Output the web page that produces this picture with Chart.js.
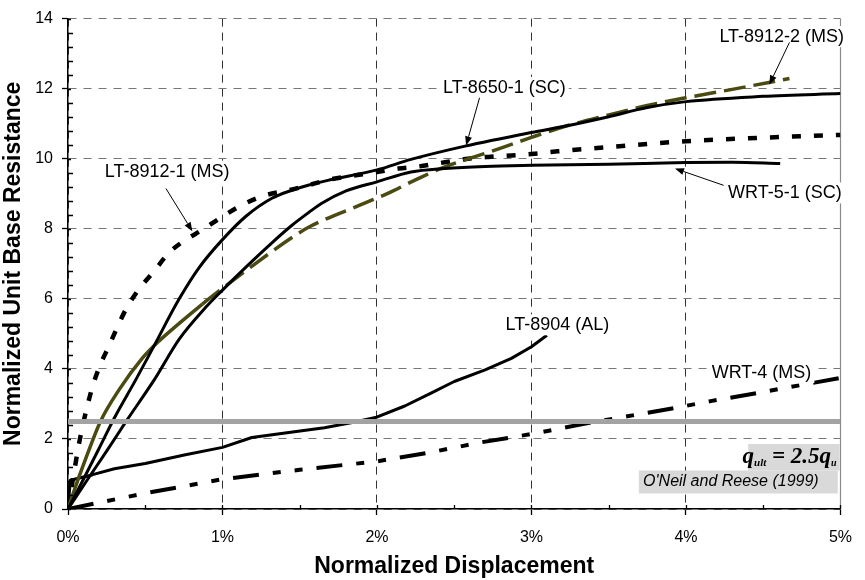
<!DOCTYPE html>
<html><head><meta charset="utf-8">
<script src="https://cdn.jsdelivr.net/npm/chart.js@4.4.0/dist/chart.umd.min.js"></script>
<style>html,body{margin:0;padding:0;background:#fff;}canvas{display:block;}</style>
</head><body>
<canvas id="c" width="865" height="580"></canvas>
<script>
// ---- tick definitions ----
const xTickValues = [0, 1, 2, 3, 4, 5];
const yTickValues = [0, 2, 4, 6, 8, 10, 12, 14];
const xMinorTicks = [0.5, 1.5, 2.5, 3.5, 4.5];
const yMinorTicks = [0.4, 0.8, 1.2, 1.6, 2.4, 2.8, 3.2, 3.6, 4.4, 4.8, 5.2, 5.6, 6.4, 6.8, 7.2, 7.6,
  8.4, 8.8, 9.2, 9.6, 10.4, 10.8, 11.2, 11.6, 12.4, 12.8, 13.2, 13.6];

// ---- series (x = normalized displacement in %, y = normalized unit base resistance) ----
const lt8650X = [0, 0.1, 0.2, 0.3, 0.44, 0.55, 0.72, 0.85, 1.0, 1.15, 1.32, 1.45, 1.56, 1.69, 2.0, 2.22, 2.57, 3.0, 3.23, 3.5, 3.75, 4.0, 4.5, 5.0];
const lt8650Y = [0, 0.85, 1.72, 2.6, 3.7, 4.6, 6.0, 6.9, 7.69, 8.35, 8.87, 9.1, 9.25, 9.39, 9.68, 9.98, 10.36, 10.75, 10.94, 11.2, 11.46, 11.63, 11.78, 11.86];

const wrt51X = [0, 0.12, 0.25, 0.376, 0.56, 0.72, 0.89, 1.0, 1.15, 1.32, 1.45, 1.56, 1.64, 1.8, 2.0, 2.22, 2.44, 2.7, 3.0, 3.5, 4.0, 4.3, 4.61];
const wrt51Y = [0, 0.8, 1.65, 2.5, 3.7, 4.85, 5.75, 6.25, 6.9, 7.6, 8.1, 8.47, 8.72, 9.08, 9.34, 9.62, 9.72, 9.78, 9.81, 9.84, 9.89, 9.9, 9.86];

const lt89122X = [0, 0.03, 0.12, 0.21, 0.33, 0.48, 0.59, 0.72, 0.87, 1.0, 1.15, 1.32, 1.45, 1.56, 1.92, 2.07, 2.27, 2.44, 2.63, 2.82, 3.0, 3.23, 3.5, 3.75, 4.0, 4.3, 4.67];
const lt89122Y = [0, 0.4, 1.5, 2.5, 3.4, 4.3, 4.8, 5.3, 5.85, 6.3, 6.8, 7.35, 7.75, 8.05, 8.73, 9.01, 9.44, 9.77, 10.05, 10.33, 10.61, 10.94, 11.25, 11.52, 11.74, 11.98, 12.29];

const lt89121X = [0, 0.03, 0.075, 0.15, 0.2, 0.27, 0.3, 0.376, 0.46, 0.55, 0.655, 0.763, 0.87, 1.0, 1.15, 1.28, 1.43, 1.56, 1.69, 2.0, 2.14, 2.29, 2.44, 2.59, 2.72, 2.87, 3.02, 3.17, 3.5, 4.0, 4.5, 5.0];
const lt89121Y = [0, 0.8, 1.95, 3.36, 4.02, 4.7, 5.0, 5.71, 6.28, 6.75, 7.32, 7.69, 7.97, 8.35, 8.73, 8.96, 9.1, 9.25, 9.4, 9.62, 9.72, 9.79, 9.9, 10.0, 10.05, 10.09, 10.14, 10.21, 10.33, 10.5, 10.6, 10.68];

const lt8904X = [0, 0.015, 0.16, 0.3, 0.5, 0.76, 1.0, 1.19, 1.49, 1.66, 1.84, 1.99, 2.18, 2.35, 2.5, 2.7, 2.87, 3.0, 3.1];
const lt8904Y = [0, 0.82, 0.98, 1.15, 1.3, 1.55, 1.76, 2.04, 2.22, 2.32, 2.47, 2.61, 2.94, 3.31, 3.64, 3.97, 4.3, 4.63, 4.96];

const wrt4X = [0, 0.5, 1.0, 1.5, 2.0, 2.35, 2.67, 3.0, 3.4, 3.9, 4.16, 4.46, 4.76, 5.0];
const wrt4Y = [0, 0.45, 0.85, 1.12, 1.36, 1.62, 1.9, 2.14, 2.48, 2.86, 3.08, 3.31, 3.55, 3.74];

const qultX = [0, 5];
const qultY = [2.5, 2.5];

// ---- annotation texts ----
const labelTexts = ['LT-8912-2 (MS)', 'LT-8650-1 (SC)', 'LT-8912-1 (MS)', 'WRT-5-1 (SC)', 'LT-8904 (AL)', 'WRT-4 (MS)'];
const noteText = "O'Neil and Reese (1999)";

// annotation layout (data units)
const labelPos = [[4.62, 13.47], [2.825, 12.02], [0.642, 9.63], [4.64, 9.01], [3.168, 5.245], [4.489, 3.88]];
const arrows = [
  [[4.67, 13.32], [4.54, 12.12]],
  [[2.664, 11.74], [2.577, 10.38]],
  [[0.634, 9.15], [0.805, 7.93]],
  [[4.244, 9.24], [3.929, 9.72]]
];
const qBox = {x0: 4.403, x1: 4.995, y0: 1.856, y1: 1.10, baseY: 1.30};
const noteBox = {x0: 3.695, x1: 4.983, y0: 1.10, y1: 0.443, cx: 4.291, cy: 0.772};

const pts = (xs, ys) => xs.map((v, i) => ({x: v, y: ys[i]}));
const FAM = '"Liberation Sans", Arial, Helvetica, sans-serif';

const overlay = {
  id: 'overlay',
  beforeDatasetsDraw(chart) {
    const {ctx, chartArea: a, scales: {x}} = chart;
    const xr = Math.round(x.getPixelForValue(5)) + 0.5;
    ctx.save();
    ctx.strokeStyle = '#8a8a8a';
    ctx.lineWidth = 1.2;
    ctx.beginPath(); ctx.moveTo(xr, a.top); ctx.lineTo(xr, a.bottom); ctx.stroke();
    ctx.restore();
  },
  afterDatasetsDraw(chart) {
    const {ctx, chartArea: a, scales: {x, y}} = chart;
    ctx.save();
    // inward ticks
    ctx.strokeStyle = '#000';
    ctx.lineWidth = 1.3;
    ctx.beginPath();
    xTickValues.forEach(v => { const p = Math.round(x.getPixelForValue(v)) + 0.5; ctx.moveTo(p, a.bottom); ctx.lineTo(p, a.bottom - 4); });
    xMinorTicks.forEach(v => { const p = Math.round(x.getPixelForValue(v)) + 0.5; ctx.moveTo(p, a.bottom); ctx.lineTo(p, a.bottom - 4); });
    yTickValues.forEach(v => { const p = Math.round(y.getPixelForValue(v)) + 0.5; ctx.moveTo(a.left, p); ctx.lineTo(a.left + 3, p); });
    yMinorTicks.forEach(v => { const p = Math.round(y.getPixelForValue(v)) + 0.5; ctx.moveTo(a.left, p); ctx.lineTo(a.left + 5, p); });
    ctx.stroke();

    // boxes
    const bx0 = x.getPixelForValue(qBox.x0), bx1 = x.getPixelForValue(qBox.x1);
    const by0 = y.getPixelForValue(qBox.y0), by1 = y.getPixelForValue(qBox.y1);
    ctx.fillStyle = '#d9d9d9';
    ctx.fillRect(bx0, by0, bx1 - bx0, by1 - by0);
    const nx0 = x.getPixelForValue(noteBox.x0), nx1 = x.getPixelForValue(noteBox.x1);
    const ny0 = y.getPixelForValue(noteBox.y0), ny1 = y.getPixelForValue(noteBox.y1);
    ctx.fillRect(nx0, ny0, nx1 - nx0, ny1 - ny0);

    ctx.fillStyle = '#000';
    ctx.textAlign = 'center'; ctx.textBaseline = 'middle';
    ctx.font = 'italic 16px ' + FAM;
    ctx.fillText(noteText, x.getPixelForValue(noteBox.cx), y.getPixelForValue(noteBox.cy));

    // q_ult = 2.5 q_u
    const pieces = [
      ['q', 'italic bold 23px "Liberation Serif", "Times New Roman", serif', 0],
      ['ult', 'italic bold 11px "Liberation Serif", "Times New Roman", serif', 3],
      [' = 2.5', 'italic bold 23px "Liberation Serif", "Times New Roman", serif', 0],
      ['q', 'italic bold 23px "Liberation Serif", "Times New Roman", serif', 0],
      ['u', 'italic bold 10px "Liberation Serif", "Times New Roman", serif', 3]
    ];
    ctx.textAlign = 'left'; ctx.textBaseline = 'alphabetic';
    let total = 0;
    pieces.forEach(p => { ctx.font = p[1]; total += ctx.measureText(p[0]).width; });
    let cx = bx1 - 3 - total;
    const base = y.getPixelForValue(qBox.baseY);
    pieces.forEach(p => { ctx.font = p[1]; ctx.fillText(p[0], cx, base + p[2]); cx += ctx.measureText(p[0]).width; });

    // labels with white backgrounds
    ctx.font = '18px ' + FAM;
    ctx.textAlign = 'center'; ctx.textBaseline = 'middle';
    labelTexts.forEach((t, i) => {
      const px = x.getPixelForValue(labelPos[i][0]), py = y.getPixelForValue(labelPos[i][1]);
      const w = ctx.measureText(t).width;
      ctx.fillStyle = '#fff';
      ctx.fillRect(px - w / 2 - 3, py - 11, w + 6, 21);
      ctx.fillStyle = '#000';
      ctx.fillText(t, px, py);
    });

    // arrows
    ctx.strokeStyle = '#000'; ctx.fillStyle = '#000'; ctx.lineWidth = 1;
    arrows.forEach(ar => {
      const x1 = x.getPixelForValue(ar[0][0]), y1 = y.getPixelForValue(ar[0][1]);
      const x2 = x.getPixelForValue(ar[1][0]), y2 = y.getPixelForValue(ar[1][1]);
      const ang = Math.atan2(y2 - y1, x2 - x1);
      const L = 9, H = 3.5;
      const bxp = x2 - L * Math.cos(ang), byp = y2 - L * Math.sin(ang);
      ctx.beginPath(); ctx.moveTo(x1, y1); ctx.lineTo(bxp, byp); ctx.stroke();
      ctx.beginPath();
      ctx.moveTo(x2, y2);
      ctx.lineTo(bxp + H * Math.sin(ang), byp - H * Math.cos(ang));
      ctx.lineTo(bxp - H * Math.sin(ang), byp + H * Math.cos(ang));
      ctx.closePath(); ctx.fill();
    });
    ctx.restore();
  }
};

const common = {showLine: true, pointRadius: 0, pointHoverRadius: 0, fill: false, borderJoinStyle: 'round'};

new Chart(document.getElementById('c'), {
  type: 'scatter',
  data: {
    datasets: [
      Object.assign({}, common, {label: 'qult', data: pts(qultX, qultY), borderColor: '#a3a3a3', borderWidth: 5, borderCapStyle: 'butt'}),
      Object.assign({}, common, {label: 'LT-8650-1 (SC)', data: pts(lt8650X, lt8650Y), borderColor: '#000', borderWidth: 3, cubicInterpolationMode: 'monotone'}),
      Object.assign({}, common, {label: 'WRT-5-1 (SC)', data: pts(wrt51X, wrt51Y), borderColor: '#000', borderWidth: 3, cubicInterpolationMode: 'monotone'}),
      Object.assign({}, common, {label: 'LT-8912-2 (MS)', data: pts(lt89122X, lt89122Y), borderColor: '#4a4a12', borderWidth: 3.5, cubicInterpolationMode: 'monotone',
        segment: {borderDash: c => c.p0.parsed.x < 0.85 ? [] : [22, 8]}}),
      Object.assign({}, common, {label: 'LT-8912-1 (MS)', data: pts(lt89121X, lt89121Y), borderColor: '#000', borderWidth: 4.5, borderDash: [9, 13], cubicInterpolationMode: 'monotone'}),
      Object.assign({}, common, {label: 'LT-8904 (AL)', data: pts(lt8904X, lt8904Y), borderColor: '#000', borderWidth: 3}),
      Object.assign({}, common, {label: 'WRT-4 (MS)', data: pts(wrt4X, wrt4Y), borderColor: '#000', borderWidth: 4, borderDash: [26, 14, 8, 14, 8, 14]})
    ]
  },
  options: {
    responsive: false,
    animation: false,
    devicePixelRatio: 1,
    layout: {padding: {left: 0, right: 21, top: 14, bottom: 0}},
    plugins: {legend: {display: false}, tooltip: {enabled: false}},
    scales: {
      x: {
        type: 'linear', min: 0, max: 5,
        afterBuildTicks: s => { s.ticks = xTickValues.map(v => ({value: v})); },
        ticks: {callback: v => v + '%', font: {size: 16, family: FAM}, color: '#000', padding: 13, maxRotation: 0},
        grid: {color: c => (c.tick && c.tick.value === 5) ? 'rgba(0,0,0,0)' : '#333', lineWidth: 1, tickLength: 6, tickColor: '#000', tickWidth: 1.3},
        border: {display: true, color: '#000', width: 1.5, dash: [8, 6]},
        title: {display: true, text: 'Normalized Displacement', font: {size: 23, weight: 'bold', family: FAM}, color: '#000', padding: {top: 0, bottom: 0}},
        afterFit: s => { s.height = 71; }
      },
      y: {
        type: 'linear', min: 0, max: 14,
        afterBuildTicks: s => { s.ticks = yTickValues.map(v => ({value: v})); },
        ticks: {font: {size: 16, family: FAM}, color: '#000', padding: 9},
        grid: {color: '#777', lineWidth: 1, tickLength: 6, tickColor: '#000', tickWidth: 1.3},
        border: {display: true, color: '#000', width: 1.5, dash: [8, 7]},
        title: {display: true, text: 'Normalized Unit Base Resistance', font: {size: 23, weight: 'bold', family: FAM}, color: '#000', padding: {top: 0, bottom: 0}},
        afterFit: s => { s.width = 68; }
      }
    }
  },
  plugins: [overlay]
});
</script>
</body></html>
